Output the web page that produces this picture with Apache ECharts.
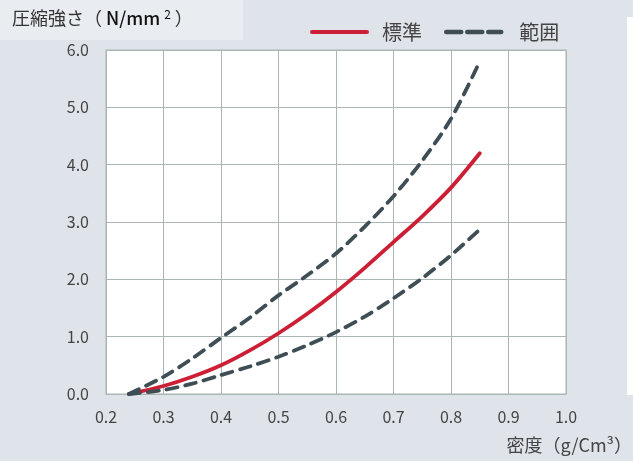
<!DOCTYPE html>
<html>
<head>
<meta charset="utf-8">
<script src="https://cdn.jsdelivr.net/npm/echarts@6/dist/echarts.min.js"></script>
<style>
html,body{margin:0;padding:0;background:#dfe3ea;}
#c{width:633px;height:461px;}
</style>
</head>
<body>
<div id="c"></div>
<script>
// Data
const densities  = [0.24, 0.3, 0.35, 0.4, 0.45, 0.5, 0.55, 0.6, 0.65, 0.7, 0.75, 0.8, 0.85];
const standard   = [0, 0.14, 0.3, 0.5, 0.76, 1.06, 1.4, 1.78, 2.2, 2.65, 3.1, 3.6, 4.2];
const upperRange = [0, 0.3, 0.62, 0.98, 1.33, 1.72, 2.07, 2.45, 2.92, 3.45, 4.07, 4.8, 5.8];
const lowerRange = [0, 0.07, 0.18, 0.33, 0.48, 0.65, 0.85, 1.08, 1.35, 1.67, 2.02, 2.42, 2.87];
const xTicks = [0.2, 0.3, 0.4, 0.5, 0.6, 0.7, 0.8, 0.9, 1.0];
const yTicks = [0, 1, 2, 3, 4, 5, 6];
const seriesNames = ['標準', '範囲'];

const pairs = (ys) => densities.map((x, i) => [x, ys[i]]);
const FONT = '"Noto Sans CJK JP", "Noto Sans", sans-serif';
const GRIDC = '#a9b6b3';
const RED = '#cc1f35';
const SLATE = '#3f4d55';

const chart = echarts.init(document.getElementById('c'), null, {renderer: 'canvas'});
chart.setOption({
  backgroundColor: '#dfe3ea',
  animation: false,
  textStyle: {fontFamily: FONT},
  grid: {left: 106, right: 67, top: 50, bottom: 67, show: true, backgroundColor: '#ffffff', borderColor: GRIDC, borderWidth: 1},
  graphic: [
    {type: 'rect', left: 0, top: 0, shape: {width: 243, height: 40}, style: {fill: '#e9ecf0'}, z: -1},
    {type: 'rect', left: 627, top: 17, shape: {width: 6, height: 378}, style: {fill: '#ffffff'}, z: -1},
    {type: 'text', left: 12, top: 8, style: {
      rich: {
        a: {fontFamily: FONT, fontSize: 18, fill: '#333'},
        b: {fontFamily: FONT, fontSize: 18, fill: '#111', fontWeight: 500},
        s: {fontFamily: FONT, fontSize: 12, fill: '#111', padding: [0, 4, 9, 4]}
      },
      text: '{a|圧縮強さ（ }{b|N/mm}{s|2}{a|）}'
    }},
    {type: 'text', right: 1, top: 436, style: {
      rich: {
        a: {fontFamily: FONT, fontSize: 18, fill: '#444'}
      },
      text: '{a|密度（g/Cm³）}'
    }}
  ],
  legend: {
    data: [
      {name: seriesNames[0], lineStyle: {width: 4}},
      {name: seriesNames[1], lineStyle: {width: 4.5, type: [15, 6]},
       textStyle: {fontFamily: FONT, fontSize: 20, color: '#444', padding: [0, 0, 0, 13]}}
    ],
    left: 305,
    top: 17,
    itemWidth: 55,
    itemHeight: 14,
    itemGap: 22,
    itemStyle: {opacity: 0},
    textStyle: {fontFamily: FONT, fontSize: 20, color: '#444', padding: [0, 0, 0, 10]}
  },
  xAxis: {
    type: 'value',
    min: xTicks[0], max: xTicks[xTicks.length - 1], interval: 0.1,
    axisLine: {show: true, lineStyle: {color: GRIDC}},
    axisTick: {show: false},
    splitLine: {show: true, lineStyle: {color: GRIDC, width: 1}},
    axisLabel: {fontFamily: FONT, fontSize: 16, color: '#444', margin: 15, formatter: v => v.toFixed(1)}
  },
  yAxis: {
    type: 'value',
    min: yTicks[0], max: yTicks[yTicks.length - 1], interval: 1,
    axisLine: {show: true, lineStyle: {color: GRIDC}},
    axisTick: {show: false},
    splitLine: {show: true, lineStyle: {color: GRIDC, width: 1}},
    axisLabel: {fontFamily: FONT, fontSize: 16, color: '#444', margin: 17, formatter: v => v.toFixed(1)}
  },
  series: [
    {name: seriesNames[0], type: 'line', data: pairs(standard), smooth: 0.3, showSymbol: false, symbol: 'none',
     lineStyle: {color: RED, width: 3.8, cap: 'round'}, itemStyle: {color: RED}, z: 3},
    {name: seriesNames[1], type: 'line', data: pairs(upperRange), smooth: 0.3, showSymbol: false, symbol: 'none',
     lineStyle: {color: SLATE, width: 3.8, type: [11, 8], cap: 'round'}, itemStyle: {color: SLATE}},
    {name: seriesNames[1], type: 'line', data: pairs(lowerRange), smooth: 0.3, showSymbol: false, symbol: 'none',
     lineStyle: {color: SLATE, width: 3.8, type: [11, 8], cap: 'round'}, itemStyle: {color: SLATE}}
  ]
});
</script>
</body>
</html>
